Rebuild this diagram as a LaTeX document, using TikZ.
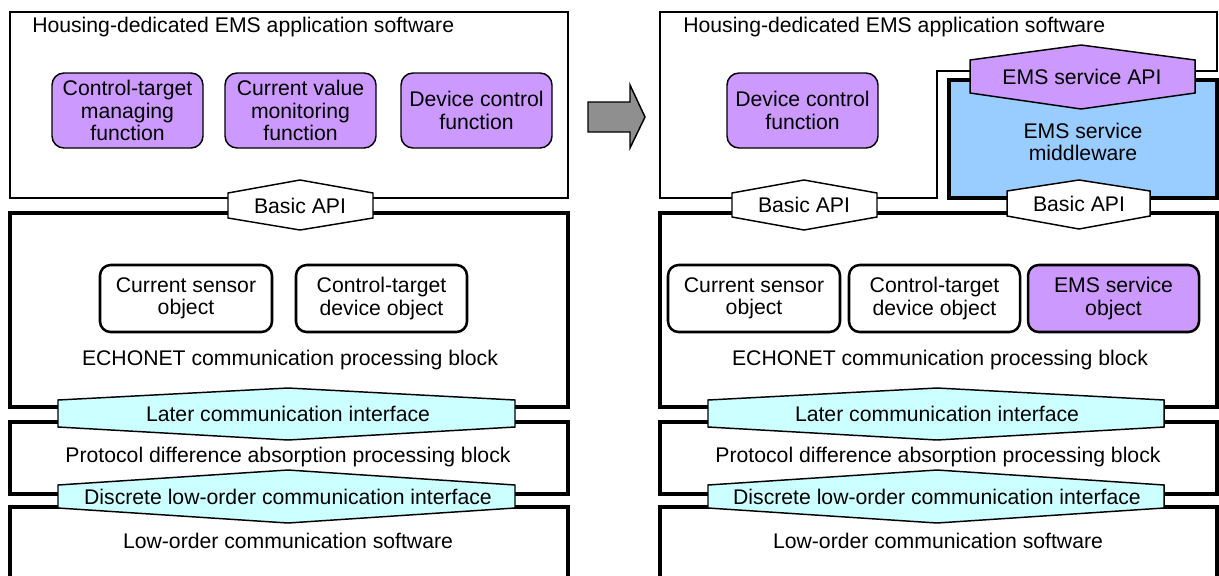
\documentclass[tikz,border=0pt]{standalone}
\usepackage{fontspec}
\setmainfont{Liberation Sans}
\definecolor{funcpurple}{HTML}{CC99FF}
\definecolor{ifcyan}{HTML}{CCFFFF}
\definecolor{mwblue}{HTML}{99CCFF}
\definecolor{arrowgray}{HTML}{8F8F8F}
\tikzset{
  thinline/.style={draw=black, line width=1.1pt},
  thickline/.style={draw=black, line width=2.4pt},
  funcbox/.style={thinline, fill=funcpurple, rounded corners=9pt},
  objbox/.style={draw=black, line width=1.9pt, fill=white, rounded corners=8pt},
  hexline/.style={draw=black, line width=1.1pt, line join=miter},
  lbl/.style={inner sep=0pt, align=center, font=\fontsize{15.9}{16.9}\selectfont},
}
% hexagonal interface plate: cx, left, right, top tip, upper corners, lower corners, bottom tip, fill
\newcommand\hexplate[8]{\draw[hexline, fill=#8] (#2,#5) -- (#1,#4) -- (#3,#5) -- (#3,#6) -- (#1,#7) -- (#2,#6) -- cycle;}
\begin{document}
\begin{tikzpicture}[x=0.75pt, y=-0.75pt]
\useasboundingbox (0,0) rectangle (1219,575);
\clip (0,0) rectangle (1219,575);

% ================= left stack =================
\draw[thinline] (10,12) rectangle (568,198);
\node[lbl, anchor=west] (lapp) at (32,27) {Housing-dedicated EMS application software};
\node[funcbox, minimum width=151*0.75pt, minimum height=75*0.75pt, lbl] (lf1) at (127.5,110.5) {Control-target\\managing\\function};
\node[funcbox, minimum width=151*0.75pt, minimum height=75*0.75pt, lbl] (lf2) at (300.5,110.5) {Current value\\monitoring\\function};
\node[funcbox, minimum width=151*0.75pt, minimum height=75*0.75pt, lbl] (lf3) at (476.5,110.5) {Device control\\function};

\draw[thickline] (10,213) rectangle (568,407);
\node[objbox, minimum width=172*0.75pt, minimum height=67*0.75pt, lbl] (lo1) at (186,298.5) {Current sensor\\object};
\node[objbox, minimum width=171*0.75pt, minimum height=67*0.75pt, lbl] (lo2) at (381.5,298.5) {Control-target\\device object};
\node[lbl] (lecho) at (290,360) {ECHONET communication processing block};

\draw[thickline] (10,422) rectangle (568,494);
\node[lbl] (lprot) at (288,457) {Protocol difference absorption processing block};
\draw[thickline] (10,507) rectangle (568,600);
\node[lbl] (llow) at (288,541) {Low-order communication software};

\hexplate{300}{228}{373}{180}{193}{218}{230}{white}
\node[lbl] (lbasic) at (300,205.5) {Basic API};
\hexplate{288}{58}{515}{388}{400}{427}{440}{ifcyan}
\node[lbl] (llater) at (288,413.5) {Later communication interface};
\hexplate{288}{58}{515}{470}{485}{508}{523}{ifcyan}
\node[lbl] (ldisc) at (288,496.5) {Discrete low-order communication interface};

% ================= transition arrow =================
\draw[thinline, fill=arrowgray] (588,102) -- (630,102) -- (630,85) -- (645,117)
  -- (630,148) -- (630,132) -- (588,132) -- cycle;

% ================= right stack =================
\draw[thinline] (660,12) -- (1217,12) -- (1217,71) -- (937,71) -- (937,198) -- (660,198) -- cycle;
\node[lbl, anchor=west] (rapp) at (683,27) {Housing-dedicated EMS application software};
\node[funcbox, minimum width=151*0.75pt, minimum height=75*0.75pt, lbl] (rf3) at (802.5,110.5) {Device control\\function};

\draw[thickline, fill=mwblue] (949,80) rectangle (1217,198);
\node[lbl] (rmw) at (1083,142) {EMS service\\middleware};
\hexplate{1081}{970}{1195}{45}{60}{93}{109}{funcpurple}
\node[lbl] (rsapi) at (1082,76.5) {EMS service API};

\draw[thickline] (660,213) rectangle (1217,407);
\node[objbox, minimum width=172*0.75pt, minimum height=67*0.75pt, lbl] (ro1) at (754,298.5) {Current sensor\\object};
\node[objbox, minimum width=171*0.75pt, minimum height=67*0.75pt, lbl] (ro2) at (934.5,298.5) {Control-target\\device object};
\node[objbox, fill=funcpurple, minimum width=171*0.75pt, minimum height=67*0.75pt, lbl] (ro3) at (1113.5,298.5) {EMS service\\object};
\node[lbl] (recho) at (940,360) {ECHONET communication processing block};

\draw[thickline] (660,422) rectangle (1217,494);
\node[lbl] (rprot) at (938,457) {Protocol difference absorption processing block};
\draw[thickline] (660,507) rectangle (1217,600);
\node[lbl] (rlow) at (938,541) {Low-order communication software};

\hexplate{804}{732}{877}{180}{193}{217}{230}{white}
\node[lbl] (rbasic1) at (804,205) {Basic API};
\hexplate{1079}{1007}{1150}{180}{191}{216}{229}{white}
\node[lbl] (rbasic2) at (1079,203.5) {Basic API};
\hexplate{937}{708}{1164}{388}{400}{427}{440}{ifcyan}
\node[lbl] (rlater) at (937,413.5) {Later communication interface};
\hexplate{937}{708}{1164}{470}{485}{508}{523}{ifcyan}
\node[lbl] (rdisc) at (937,496.5) {Discrete low-order communication interface};
\end{tikzpicture}
\end{document}
